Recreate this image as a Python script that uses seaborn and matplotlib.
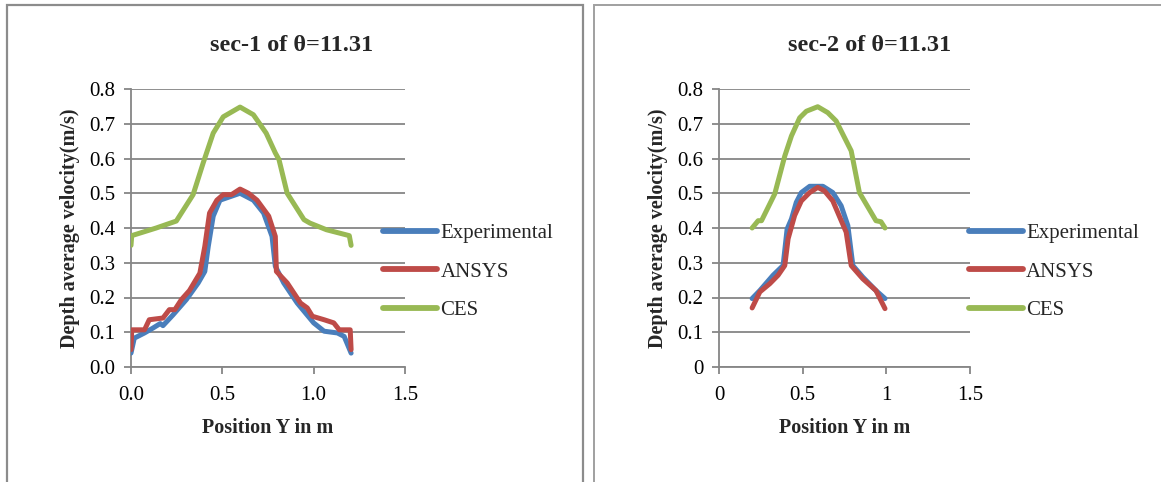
import numpy as np
import pandas as pd
import seaborn as sns
import matplotlib
matplotlib.use("Agg")
import matplotlib.pyplot as plt
from matplotlib.patches import Rectangle
from matplotlib.ticker import FixedLocator, FuncFormatter

# ---------------- data ----------------
series_names = ["Experimental", "ANSYS", "CES"]
colors = ["#4A7EBB", "#BE4B48", "#98B954"]

# sec-1
s1_exp_x = [0.0, 0.018, 0.074, 0.12, 0.16, 0.175, 0.23, 0.303, 0.368, 0.404, 0.423, 0.45, 0.487, 0.542, 0.597,
            0.67, 0.726, 0.772, 0.79, 0.836, 0.91, 1.0, 1.057, 1.13, 1.167, 1.205]
s1_exp_y = [0.04, 0.083, 0.098, 0.112, 0.125, 0.119, 0.15, 0.194, 0.242, 0.275, 0.347, 0.434, 0.48, 0.49, 0.50,
            0.48, 0.443, 0.376, 0.29, 0.242, 0.184, 0.127, 0.103, 0.098, 0.088, 0.04]
s1_ans_x = [0.0, 0.004, 0.074, 0.1, 0.175, 0.21, 0.24, 0.276, 0.32, 0.377, 0.404, 0.43, 0.47, 0.505, 0.55, 0.597,
            0.643, 0.69, 0.754, 0.79, 0.796, 0.855, 0.928, 0.965, 0.993, 1.057, 1.11, 1.14, 1.2, 1.205]
s1_ans_y = [0.05, 0.107, 0.107, 0.136, 0.141, 0.165, 0.165, 0.194, 0.22, 0.27, 0.347, 0.443, 0.48, 0.496, 0.496, 0.512,
            0.50, 0.48, 0.434, 0.376, 0.275, 0.242, 0.184, 0.17, 0.146, 0.136, 0.127, 0.107, 0.107, 0.05]
s1_ces_x = [0.0, 0.004, 0.138, 0.248, 0.34, 0.395, 0.45, 0.505, 0.597, 0.67, 0.74, 0.79, 0.81, 0.855, 0.947, 0.98,
            1.07, 1.195, 1.205]
s1_ces_y = [0.35, 0.378, 0.40, 0.42, 0.496, 0.587, 0.673, 0.72, 0.748, 0.726, 0.673, 0.616, 0.597, 0.50, 0.424, 0.414,
            0.395, 0.378, 0.35]

# sec-2
s2_exp_x = [0.198, 0.244, 0.323, 0.383, 0.407, 0.433, 0.462, 0.492, 0.542, 0.621, 0.68, 0.73, 0.77, 0.80, 0.859,
            0.938, 0.992]
s2_exp_y = [0.197, 0.22, 0.264, 0.292, 0.397, 0.426, 0.474, 0.502, 0.52, 0.52, 0.502, 0.464, 0.407, 0.292, 0.259,
            0.22, 0.197]
s2_ans_x = [0.198, 0.244, 0.304, 0.353, 0.393, 0.413, 0.452, 0.492, 0.542, 0.59, 0.63, 0.68, 0.76, 0.79, 0.859,
            0.938, 0.992]
s2_ans_y = [0.17, 0.216, 0.24, 0.264, 0.292, 0.369, 0.436, 0.478, 0.502, 0.517, 0.507, 0.478, 0.388, 0.292, 0.254,
            0.22, 0.168]
s2_ces_x = [0.198, 0.234, 0.254, 0.333, 0.393, 0.433, 0.482, 0.522, 0.59, 0.65, 0.70, 0.79, 0.839, 0.938, 0.968,
            0.992]
s2_ces_y = [0.40, 0.421, 0.421, 0.498, 0.607, 0.665, 0.717, 0.736, 0.749, 0.732, 0.708, 0.622, 0.502, 0.421, 0.418,
            0.40]

titles = ["sec-1 of \u03b8=11.31", "sec-2 of \u03b8=11.31"]
x_ticks = [0.0, 0.5, 1.0, 1.5]
y_ticks = [0.0, 0.1, 0.2, 0.3, 0.4, 0.5, 0.6, 0.7, 0.8]
x_label = "Position Y in m"
y_label = "Depth average velocity(m/s)"


def make_df(xs, ys):
    frames = []
    for name, x, y in zip(series_names, xs, ys):
        frames.append(pd.DataFrame({"x": x, "y": y, "series": name}))
    return pd.concat(frames, ignore_index=True)


df1 = make_df([s1_exp_x, s1_ans_x, s1_ces_x], [s1_exp_y, s1_ans_y, s1_ces_y])
df2 = make_df([s2_exp_x, s2_ans_x, s2_ces_x], [s2_exp_y, s2_ans_y, s2_ces_y])

# ---------------- style ----------------
sns.set_theme(style="white")
plt.rcParams["font.family"] = ["Liberation Serif", "DejaVu Serif"]

W, H = 1161, 482
fig = plt.figure(figsize=(W / 100, H / 100), dpi=100)

grid_c = "#868686"

# panel borders
fig.add_artist(Rectangle((7 / W, -0.05), (583 - 7) / W, 1 - 5 / H + 0.05, transform=fig.transFigure,
                         fill=False, edgecolor="#8c8c8c", linewidth=1.6))
fig.add_artist(Rectangle((594 / W, -0.05), 0.5, 1 - 5 / H + 0.05, transform=fig.transFigure,
                         fill=False, edgecolor="#a0a0a0", linewidth=1.4))

axes_px = [(131, 405), (719, 970)]
title_cx = [292, 870]
y_top, y_bot = 89, 367
legend_anchor_x = [0.92, 0.996]
fmt_y = [lambda v, p: f"{v:.1f}", lambda v, p: "0" if abs(v) < 1e-9 else f"{v:.1f}"]
fmt_x = [lambda v, p: f"{v:.1f}", lambda v, p: "0" if abs(v) < 1e-9 else ("1" if abs(v - 1) < 1e-9 else f"{v:g}")]

for i, df in enumerate([df1, df2]):
    x0, x1 = axes_px[i]
    ax = fig.add_axes([x0 / W, 1 - y_bot / H, (x1 - x0) / W, (y_bot - y_top) / H])
    sns.lineplot(data=df, x="x", y="y", hue="series", hue_order=series_names, palette=colors,
                 estimator=None, sort=False, linewidth=3.6, ax=ax, legend=True, zorder=3)
    for ln in ax.get_lines():
        ln.set_solid_capstyle("round")
        ln.set_solid_joinstyle("round")
    ax.set_xlim(0, 1.5)
    ax.set_ylim(0, 0.8)
    ax.xaxis.set_major_locator(FixedLocator(x_ticks))
    ax.yaxis.set_major_locator(FixedLocator(y_ticks))
    ax.xaxis.set_major_formatter(FuncFormatter(fmt_x[i]))
    ax.yaxis.set_major_formatter(FuncFormatter(fmt_y[i]))
    ax.grid(axis="y", color=grid_c, linewidth=1.3)
    ax.grid(axis="x", visible=False)
    ax.set_axisbelow(True)
    for s in ["top", "right"]:
        ax.spines[s].set_visible(False)
    for s in ["left", "bottom"]:
        ax.spines[s].set_color(grid_c)
        ax.spines[s].set_linewidth(1.3)
    ax.tick_params(axis="both", which="major", direction="out", length=5, width=1.3, color=grid_c,
                   labelsize=15, labelcolor="black", bottom=True, left=True)
    ax.tick_params(axis="y", pad=6)
    ax.tick_params(axis="x", pad=9)
    fig.text(title_cx[i] / W, 1 - 51 / H, titles[i], fontsize=17.5, fontweight="bold",
             ha="center", va="baseline")
    ax.set_xlabel(x_label, fontsize=14.5, fontweight="bold", labelpad=9)
    ax.set_ylabel(y_label, fontsize=14.5, fontweight="bold", labelpad=7)
    handles, labels = ax.get_legend_handles_labels()
    for h in handles:
        h.set_linewidth(4.2)
        h.set_solid_capstyle("round")
    ax.legend(handles, labels, loc="center left", bbox_to_anchor=(legend_anchor_x[i], 0.342), frameon=False,
              fontsize=15, handlelength=2.6, handletextpad=0.15, labelspacing=0.9, borderaxespad=0,
              borderpad=0)

fig.savefig("out.png", dpi=100)
